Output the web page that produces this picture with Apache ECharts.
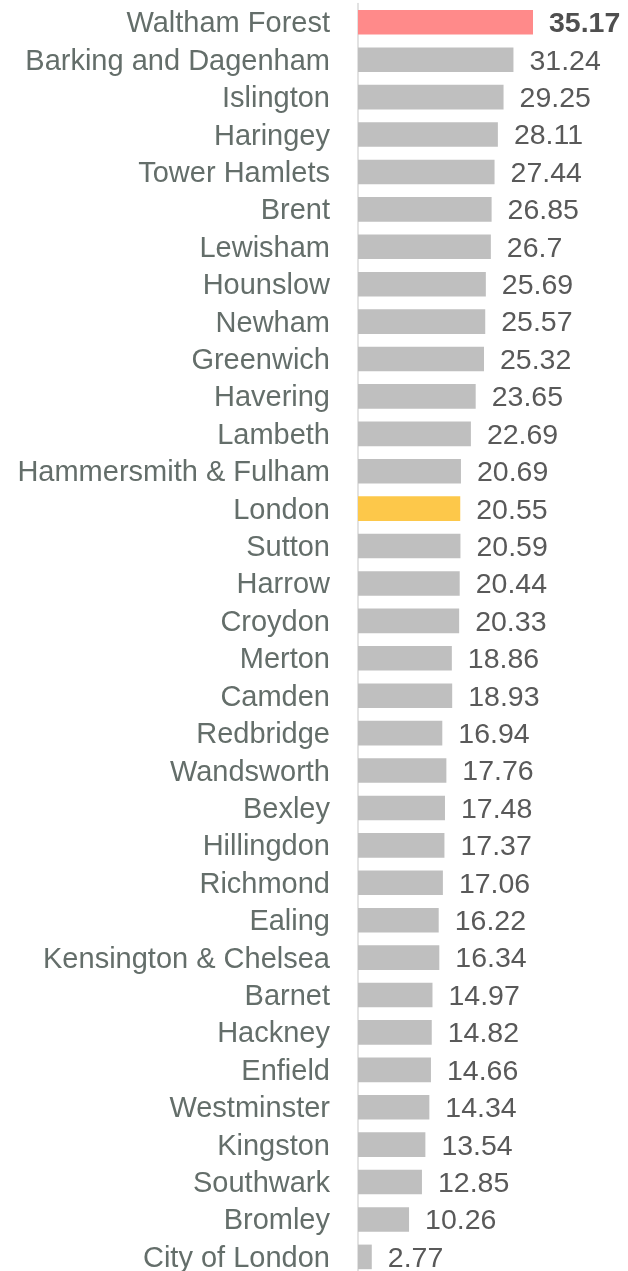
<!DOCTYPE html>
<html>
<head>
<meta charset="utf-8">
<script src="https://cdn.jsdelivr.net/npm/echarts@6/dist/echarts.min.js"></script>
<style>
  html, body { margin: 0; padding: 0; background: #ffffff; overflow: hidden; }
  #chart { width: 628px; height: 1280px; }
</style>
</head>
<body>
<div id="chart"></div>
<script>
// Boroughs, top to bottom
const boroughs = [
  'Waltham Forest', 'Barking and Dagenham', 'Islington', 'Haringey', 'Tower Hamlets',
  'Brent', 'Lewisham', 'Hounslow', 'Newham', 'Greenwich', 'Havering', 'Lambeth',
  'Hammersmith & Fulham', 'London', 'Sutton', 'Harrow', 'Croydon', 'Merton', 'Camden',
  'Redbridge', 'Wandsworth', 'Bexley', 'Hillingdon', 'Richmond', 'Ealing',
  'Kensington & Chelsea', 'Barnet', 'Hackney', 'Enfield', 'Westminster', 'Kingston',
  'Southwark', 'Bromley', 'City of London'
];

const values = [
  35.17, 31.24, 29.25, 28.11, 27.44,
  26.85, 26.7, 25.69, 25.57, 25.32, 23.65, 22.69,
  20.69, 20.55, 20.59, 20.44, 20.33, 18.86, 18.93,
  16.94, 17.76, 17.48, 17.37, 17.06, 16.22,
  16.34, 14.97, 14.82, 14.66, 14.34, 13.54,
  12.85, 10.26, 2.77
];

const highlightName = 'Waltham Forest';
const averageName = 'London';

const FONT = '"Liberation Sans", Arial, sans-serif';

const chart = echarts.init(document.getElementById('chart'), null, { renderer: 'canvas' });

const barData = boroughs.map((name, i) => {
  let color = '#bfbfbf';
  let label = { color: '#595959', fontWeight: 'normal' };
  if (name === highlightName) {
    color = '#ff8a8a';
    label = { color: '#4f4f4f', fontWeight: 'bold' };
  } else if (name === averageName) {
    color = '#fdc84a';
  }
  return { value: values[i], itemStyle: { color: color }, label: label };
});

chart.setOption({
  animation: false,
  backgroundColor: '#ffffff',
  grid: { left: 358, top: 3.6, height: 1272, right: 21.2, containLabel: false },
  xAxis: {
    type: 'value',
    min: 0,
    max: 50,
    show: false
  },
  yAxis: {
    type: 'category',
    data: boroughs,
    inverse: true,
    axisLine: { show: true, lineStyle: { color: '#d9d9d9', width: 1.5 } },
    axisTick: { show: false },
    splitLine: { show: false },
    axisLabel: {
      interval: 0,
      margin: 28,
      formatter: (v) => '{n|' + v + '}',
      rich: {
        n: {
          fontFamily: FONT,
          fontSize: 29,
          color: '#646e6a',
          padding: [4, 0, 0, 0]
        }
      }
    }
  },
  series: [{
    type: 'bar',
    data: barData,
    barWidth: 24.6,
    label: {
      show: true,
      position: 'right',
      distance: 16,
      fontFamily: FONT,
      fontSize: 28.5,
      offset: [0, 2]
    }
  }]
});
</script>
</body>
</html>
